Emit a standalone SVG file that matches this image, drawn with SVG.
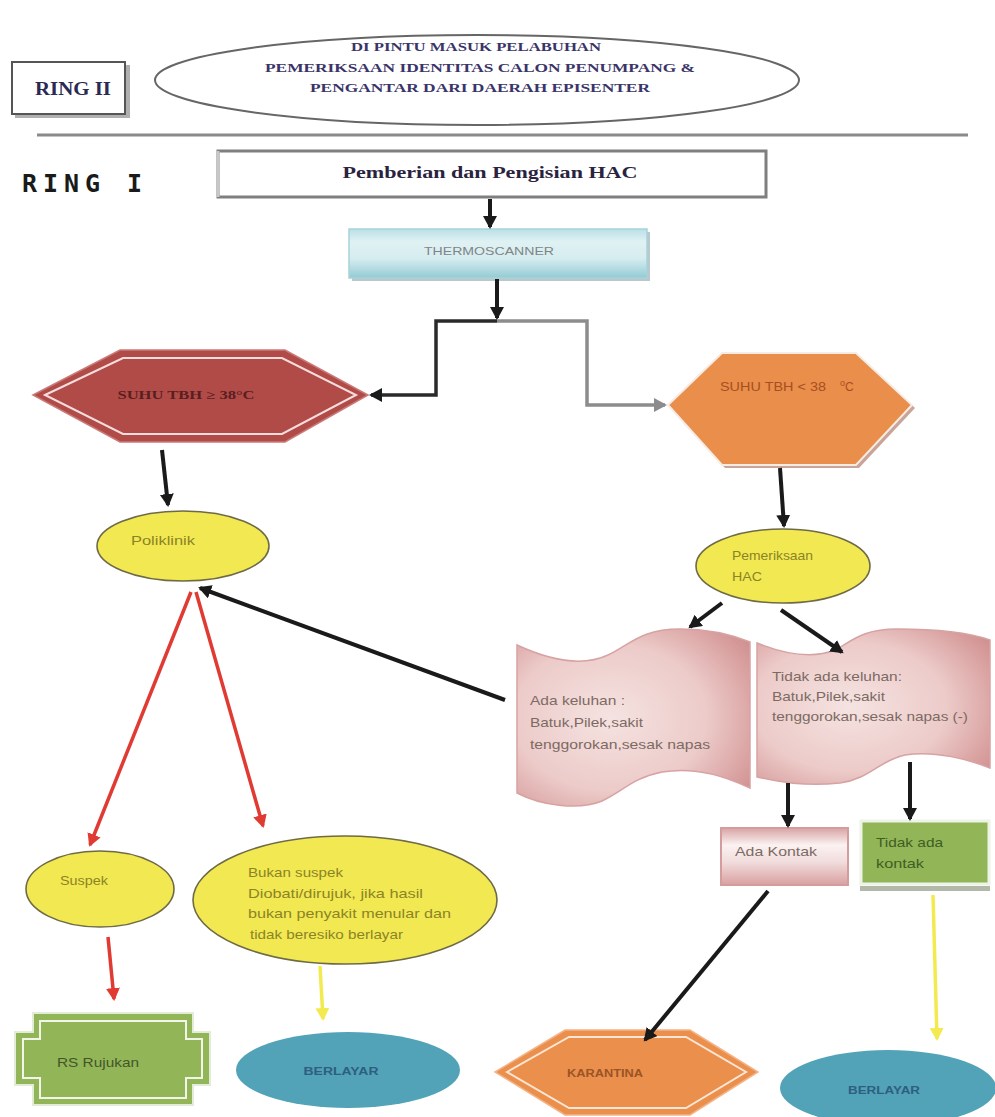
<svg xmlns="http://www.w3.org/2000/svg" width="995" height="1117" viewBox="0 0 995 1117">
<style>
.sans{font-family:"Liberation Sans","DejaVu Sans",sans-serif}
.serif{font-family:"Liberation Serif","DejaVu Serif",serif}
.yel{fill:#f2e852;stroke:#6e6a45;stroke-width:1.6}
.ytxt{font-size:13px;fill:#8b8425}
.dtxt{font-size:13px;fill:#7d6a63}
.teal{fill:#52a3b7}
.btxt{font-size:11px;fill:#2e5f80;font-weight:bold}
.ck{fill:none;stroke:#1a1a1a;stroke-width:4}
.cr{fill:none;stroke:#e03a32;stroke-width:3.5}
.cy{fill:none;stroke:#f3ea50;stroke-width:3.5}
</style>
<defs>
<marker id="mk" viewBox="0 0 14 14" refX="11" refY="7" markerWidth="14" markerHeight="14" markerUnits="userSpaceOnUse" orient="auto"><path d="M0,0 L13,7 L0,14 z" fill="#1a1a1a"/></marker>
<marker id="mg" viewBox="0 0 14 14" refX="11" refY="7" markerWidth="14" markerHeight="14" markerUnits="userSpaceOnUse" orient="auto"><path d="M0,0 L13,7 L0,14 z" fill="#8c8c8c"/></marker>
<marker id="mr" viewBox="0 0 14 14" refX="11" refY="7" markerWidth="14" markerHeight="14" markerUnits="userSpaceOnUse" orient="auto"><path d="M0,0 L13,7 L0,14 z" fill="#e03a32"/></marker>
<marker id="my" viewBox="0 0 14 14" refX="11" refY="7" markerWidth="14" markerHeight="14" markerUnits="userSpaceOnUse" orient="auto"><path d="M0,0 L13,7 L0,14 z" fill="#f3ea50"/></marker>
<linearGradient id="gThermo" x1="0" y1="0" x2="0" y2="1">
<stop offset="0" stop-color="#b9e0e6"/><stop offset="0.25" stop-color="#dff1f3"/><stop offset="0.6" stop-color="#d6edf0"/><stop offset="1" stop-color="#93cbd4"/>
</linearGradient>
<radialGradient id="gDoc" cx="0.4" cy="0.5" r="0.75">
<stop offset="0" stop-color="#f5e3e1"/><stop offset="0.55" stop-color="#eccbc9"/><stop offset="1" stop-color="#cf8c8c"/>
</radialGradient>
<linearGradient id="gKontak" x1="0" y1="0" x2="0" y2="1">
<stop offset="0" stop-color="#d8a3a3"/><stop offset="0.3" stop-color="#fbf2f2"/><stop offset="0.6" stop-color="#f1dcdc"/><stop offset="1" stop-color="#d9a0a0"/>
</linearGradient>
</defs>

<g id="ring2">
<rect x="15" y="65" width="115" height="53" fill="#b0b0b0"/>
<rect x="12" y="62" width="113" height="52" fill="#fff" stroke="#555" stroke-width="2"/>
<text x="73" y="95" text-anchor="middle" class="serif" font-size="18" font-weight="bold" fill="#2a2a55" textLength="76" lengthAdjust="spacingAndGlyphs">RING II</text>
</g>

<g id="header-ellipse">
<ellipse cx="477" cy="80" rx="322" ry="45" fill="#fff" stroke="#666" stroke-width="2"/>
<g class="serif" font-size="12" font-weight="bold" fill="#3a3468" text-anchor="middle">
<text x="476" y="51" textLength="250" lengthAdjust="spacingAndGlyphs">DI PINTU MASUK PELABUHAN</text>
<text x="480" y="72" textLength="430" lengthAdjust="spacingAndGlyphs">PEMERIKSAAN IDENTITAS CALON PENUMPANG &amp;</text>
<text x="480" y="92" textLength="340" lengthAdjust="spacingAndGlyphs">PENGANTAR DARI DAERAH EPISENTER</text>
</g>
</g>

<g id="divider">
<line x1="37" y1="135" x2="968" y2="135" stroke="#8a8a8a" stroke-width="3"/>
</g>

<g id="ring1">
<text x="22" y="192" font-family="DejaVu Sans Mono,Liberation Mono,monospace" font-size="25" font-weight="bold" fill="#1a1a1a" textLength="120" lengthAdjust="spacing">RING  I</text>
</g>

<g id="pemberian">
<rect x="218" y="151" width="548" height="46" fill="#fff" stroke="#7f7f7f" stroke-width="3"/>
<line x1="218" y1="151" x2="218" y2="197" stroke="#c8c8c8" stroke-width="3"/>
<text x="490" y="178" text-anchor="middle" class="serif" font-size="17" font-weight="bold" fill="#2a2340" textLength="295" lengthAdjust="spacingAndGlyphs">Pemberian dan Pengisian HAC</text>
</g>

<g id="thermoscanner">
<rect x="352" y="232" width="298" height="49" fill="#b9c8cc"/>
<rect x="349" y="229" width="298" height="49" fill="url(#gThermo)" stroke="#a6d3da" stroke-width="1.5"/>
<text x="489" y="255" text-anchor="middle" class="sans" font-size="11" fill="#7f8586" textLength="130" lengthAdjust="spacingAndGlyphs">THERMOSCANNER</text>
</g>

<g id="suhu-high">
<polygon points="33,395 120,350 285,350 368,395 285,442 120,442" fill="#b14b48" stroke="#c97a78" stroke-width="1.5"/>
<polygon points="45,395 123,358 282,358 356,395 282,434 123,434" fill="none" stroke="#f6dede" stroke-width="2"/>
<text x="186" y="399" text-anchor="middle" class="serif" font-size="12" font-weight="bold" fill="#5a1e1e" textLength="137" lengthAdjust="spacingAndGlyphs">SUHU TBH ≥ 38°C</text>
</g>

<g id="suhu-low">
<polygon points="671,408 725,356 859,356 915,408 859,468 725,468" fill="#c9a497"/>
<polygon points="668,405 722,353 856,353 912,405 856,465 722,465" fill="#e98e4b" stroke="#f6ece6" stroke-width="2"/>
<text x="720" y="391" class="sans" font-size="12" fill="#a84e22"><tspan textLength="106" lengthAdjust="spacingAndGlyphs">SUHU TBH &lt; 38</tspan><tspan x="840" dy="-5" font-size="9">o</tspan><tspan dy="5">C</tspan></text>
</g>

<g id="poliklinik">
<ellipse cx="183" cy="546" rx="86" ry="35" class="yel"/>
<text x="131" y="545" class="sans ytxt" textLength="64" lengthAdjust="spacingAndGlyphs">Poliklinik</text>
</g>

<g id="pemeriksaan">
<ellipse cx="783" cy="566" rx="87" ry="37" class="yel"/>
<text x="732" y="560" class="sans ytxt" textLength="81" lengthAdjust="spacingAndGlyphs">Pemeriksaan</text>
<text x="732" y="581" class="sans ytxt" textLength="30" lengthAdjust="spacingAndGlyphs">HAC</text>
</g>

<g id="ada-keluhan">
<path d="M517,645 C545,658 580,668 608,655 C630,645 640,629 680,629 C712,629 735,636 750,642 L750,788 C730,779 700,766 662,772 C632,778 622,792 602,801 C578,811 540,805 517,793 Z" fill="url(#gDoc)" stroke="#d7a2a2" stroke-width="1.5"/>
<text x="530" y="705" class="sans dtxt" textLength="95" lengthAdjust="spacingAndGlyphs">Ada keluhan :</text>
<text x="530" y="727" class="sans dtxt" textLength="113" lengthAdjust="spacingAndGlyphs">Batuk,Pilek,sakit</text>
<text x="530" y="749" class="sans dtxt" textLength="180" lengthAdjust="spacingAndGlyphs">tenggorokan,sesak napas</text>
</g>

<g id="tidak-keluhan">
<path d="M757,643 C782,653 810,660 835,650 C852,641 862,629 897,629 C940,629 970,633 990,640 L990,768 C970,760 935,750 905,755 C880,760 870,779 840,783 C802,787 776,781 757,777 Z" fill="url(#gDoc)" stroke="#d7a2a2" stroke-width="1.5"/>
<text x="772" y="681" class="sans dtxt" textLength="130" lengthAdjust="spacingAndGlyphs">Tidak ada keluhan:</text>
<text x="772" y="701" class="sans dtxt" textLength="113" lengthAdjust="spacingAndGlyphs">Batuk,Pilek,sakit</text>
<text x="772" y="721" class="sans dtxt" textLength="196" lengthAdjust="spacingAndGlyphs">tenggorokan,sesak napas (-)</text>
</g>

<g id="ada-kontak">
<rect x="721" y="828" width="127" height="57" fill="url(#gKontak)" stroke="#d49c9c" stroke-width="2"/>
<text x="735" y="856" class="sans dtxt" textLength="82" lengthAdjust="spacingAndGlyphs">Ada Kontak</text>
</g>

<g id="tidak-kontak">
<rect x="860" y="886" width="130" height="5" fill="#b3b9a8"/>
<rect x="861" y="821" width="128" height="63" fill="#92b557" stroke="#eef3e8" stroke-width="3"/>
<text x="876" y="847" class="sans" font-size="13" fill="#3f5e22" textLength="67" lengthAdjust="spacingAndGlyphs">Tidak ada</text>
<text x="876" y="868" class="sans" font-size="13" fill="#3f5e22" textLength="48" lengthAdjust="spacingAndGlyphs">kontak</text>
</g>

<g id="suspek">
<ellipse cx="100" cy="889" rx="74" ry="38" class="yel"/>
<text x="60" y="885" class="sans ytxt" textLength="48" lengthAdjust="spacingAndGlyphs">Suspek</text>
</g>

<g id="bukan-suspek">
<ellipse cx="345" cy="900" rx="152" ry="64" class="yel"/>
<text x="248" y="877" class="sans ytxt" textLength="95" lengthAdjust="spacingAndGlyphs">Bukan suspek</text>
<text x="248" y="898" class="sans ytxt" textLength="175" lengthAdjust="spacingAndGlyphs">Diobati/dirujuk, jika hasil</text>
<text x="248" y="918" class="sans ytxt" textLength="203" lengthAdjust="spacingAndGlyphs">bukan penyakit menular dan</text>
<text x="250" y="939" class="sans ytxt" textLength="153" lengthAdjust="spacingAndGlyphs">tidak beresiko berlayar</text>
</g>

<g id="rs-rujukan">
<path d="M33,1013 L193,1013 L193,1032 L210,1032 L210,1085 L193,1085 L193,1105 L33,1105 L33,1085 L15,1085 L15,1032 L33,1032 Z" fill="#92b557" stroke="#e3ecd6" stroke-width="2"/>
<path d="M40,1021 L186,1021 L186,1039 L202,1039 L202,1078 L186,1078 L186,1098 L40,1098 L40,1078 L23,1078 L23,1039 L40,1039 Z" fill="none" stroke="#f2f6ea" stroke-width="2"/>
<text x="57" y="1067" class="sans" font-size="13" fill="#44552a" textLength="82" lengthAdjust="spacingAndGlyphs">RS Rujukan</text>
</g>

<g id="berlayar-1">
<ellipse cx="348" cy="1070" rx="112" ry="38" class="teal"/>
<text x="341" y="1075" text-anchor="middle" class="sans btxt" textLength="75" lengthAdjust="spacingAndGlyphs">BERLAYAR</text>
</g>

<g id="karantina">
<polygon points="495,1072 565,1030 690,1030 758,1072 690,1115 565,1115" fill="#eb8f4c" stroke="#f4b487" stroke-width="1.5"/>
<polygon points="507,1072 569,1037 686,1037 746,1072 686,1108 569,1108" fill="none" stroke="#fbe6d6" stroke-width="2"/>
<text x="605" y="1077" text-anchor="middle" class="sans" font-size="11" font-weight="bold" fill="#9a5426" textLength="76" lengthAdjust="spacingAndGlyphs">KARANTINA</text>
</g>

<g id="berlayar-2">
<ellipse cx="888" cy="1088" rx="108" ry="38" class="teal"/>
<text x="884" y="1094" text-anchor="middle" class="sans btxt" textLength="72" lengthAdjust="spacingAndGlyphs">BERLAYAR</text>
</g>

<g id="connectors">
<path class="ck" d="M490,199 L490,227" marker-end="url(#mk)"/>
<path class="ck" d="M497,279 L497,318" marker-end="url(#mk)"/>
<path d="M497,321 L436,321 L436,395 L371,395" fill="none" stroke="#2a2a2a" stroke-width="3.5" marker-end="url(#mk)"/>
<path d="M497,321 L587,321 L587,405 L665,405" fill="none" stroke="#8c8c8c" stroke-width="3.5" marker-end="url(#mg)"/>
<path class="ck" d="M162,450 L168,505" marker-end="url(#mk)"/>
<path class="ck" d="M780,468 L784,526" marker-end="url(#mk)"/>
<path class="ck" d="M722,603 L690,627" marker-end="url(#mk)"/>
<path class="ck" d="M781,610 L842,652" marker-end="url(#mk)"/>
<path class="ck" d="M505,700 L200,588" marker-end="url(#mk)"/>
<path class="cr" d="M191,592 L90,845" marker-end="url(#mr)"/>
<path class="cr" d="M196,592 L263,826" marker-end="url(#mr)"/>
<path class="ck" d="M788,783 L788,826" marker-end="url(#mk)"/>
<path class="ck" d="M910,762 L910,819" marker-end="url(#mk)"/>
<path class="ck" d="M768,891 L645,1040" marker-end="url(#mk)"/>
<path class="cy" d="M933,895 L937,1039" marker-end="url(#my)"/>
<path class="cr" d="M108,937 L114,999" marker-end="url(#mr)"/>
<path class="cy" d="M320,966 L323,1019" marker-end="url(#my)"/>
</g>
</svg>
